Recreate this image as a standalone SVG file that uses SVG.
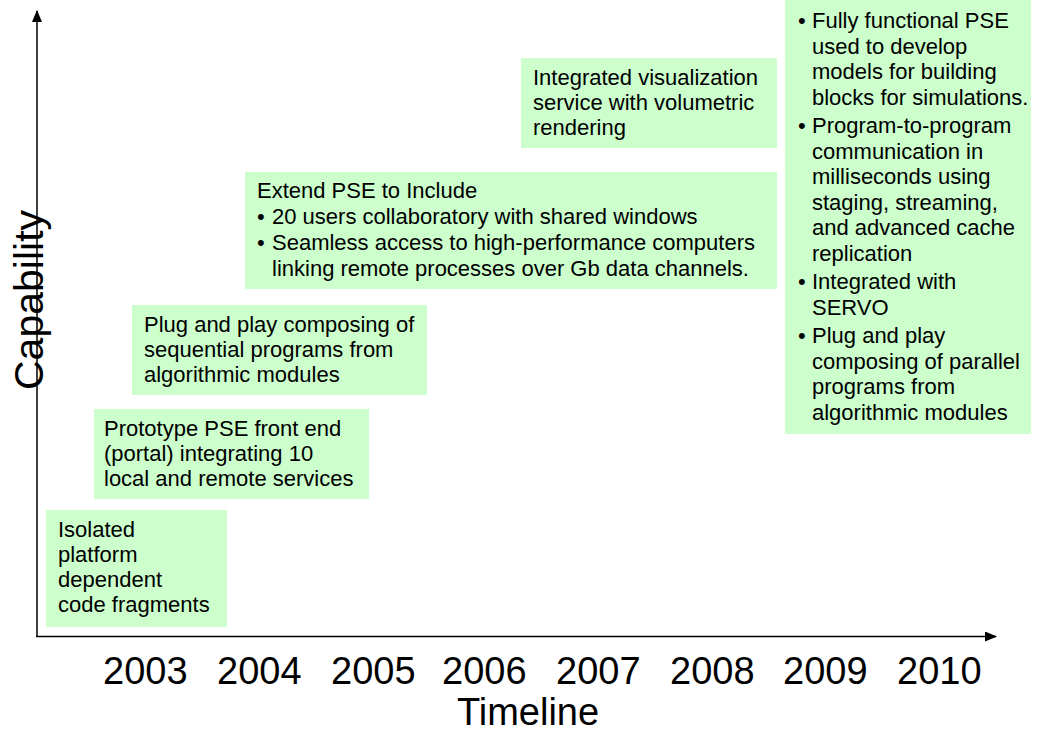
<svg xmlns="http://www.w3.org/2000/svg" width="1042" height="732" viewBox="0 0 1042 732">
<style>
.box{fill:#CCFFCC;stroke:none}
.t{font-family:"Liberation Sans",Arial,sans-serif;font-size:22px;fill:#000}
.yr{font-family:"Liberation Sans",Arial,sans-serif;font-size:38px;fill:#000}
.ax{font-family:"Liberation Sans",Arial,sans-serif;font-size:38px;fill:#000}
.axis{stroke:#000;stroke-width:1.5;fill:none}
</style>
<defs>
<marker id="arr" markerWidth="12" markerHeight="10" refX="11" refY="5" orient="auto" markerUnits="userSpaceOnUse">
<path d="M0,0 L12,5 L0,10 Z" fill="#000"/>
</marker>
</defs>
<rect width="1042" height="732" fill="#fff"/>
<g id="connectors">
<line class="axis" x1="37" y1="637" x2="37" y2="11" marker-end="url(#arr)"/>
<line class="axis" x1="36" y1="636.5" x2="996" y2="636.5" marker-end="url(#arr)"/>
</g>
<g id="node-isolated">
<rect class="box" x="46" y="510" width="181" height="117"/>
<text class="t"><tspan x="58" y="537">Isolated</tspan><tspan x="58" y="562">platform</tspan><tspan x="58" y="587">dependent</tspan><tspan x="58" y="612">code fragments</tspan></text>
</g>
<g id="node-prototype">
<rect class="box" x="94" y="409" width="275" height="90"/>
<text class="t"><tspan x="104" y="436">Prototype PSE front end</tspan><tspan x="104" y="461">(portal) integrating 10</tspan><tspan x="104" y="486">local and remote services</tspan></text>
</g>
<g id="node-plugplay">
<rect class="box" x="132" y="305" width="295" height="90"/>
<text class="t"><tspan x="144" y="332">Plug and play composing of</tspan><tspan x="144" y="357">sequential programs from</tspan><tspan x="144" y="382">algorithmic modules</tspan></text>
</g>
<g id="node-extend">
<rect class="box" x="245" y="172" width="532" height="117"/>
<text class="t"><tspan x="257" y="198">Extend PSE to Include</tspan><tspan x="257" y="224">•</tspan><tspan x="272" y="224">20 users collaboratory with shared windows</tspan><tspan x="257" y="250">•</tspan><tspan x="272" y="250">Seamless access to high-performance computers</tspan><tspan x="272" y="276">linking remote processes over Gb data channels.</tspan></text>
</g>
<g id="node-visualization">
<rect class="box" x="521" y="58" width="256" height="90"/>
<text class="t"><tspan x="533" y="85">Integrated visualization</tspan><tspan x="533" y="110">service with volumetric</tspan><tspan x="533" y="135">rendering</tspan></text>
</g>
<g id="node-full">
<rect class="box" x="785" y="0" width="246" height="434"/>
<text class="t">
<tspan x="798" y="28">•</tspan><tspan x="812" y="28">Fully functional PSE</tspan>
<tspan x="812" y="53.5">used to develop</tspan>
<tspan x="812" y="79">models for building</tspan>
<tspan x="812" y="104.5">blocks for simulations.</tspan>
<tspan x="798" y="133">•</tspan><tspan x="812" y="133">Program-to-program</tspan>
<tspan x="812" y="158.5">communication in</tspan>
<tspan x="812" y="184">milliseconds using</tspan>
<tspan x="812" y="209.5">staging, streaming,</tspan>
<tspan x="812" y="235">and advanced cache</tspan>
<tspan x="812" y="260.5">replication</tspan>
<tspan x="798" y="289">•</tspan><tspan x="812" y="289">Integrated with</tspan>
<tspan x="812" y="314.5">SERVO</tspan>
<tspan x="798" y="343">•</tspan><tspan x="812" y="343">Plug and play</tspan>
<tspan x="812" y="368.5">composing of parallel</tspan>
<tspan x="812" y="394">programs from</tspan>
<tspan x="812" y="419.5">algorithmic modules</tspan>
</text>
</g>
<g id="labels">
<text class="yr" y="684"><tspan x="103">2003</tspan><tspan x="217">2004</tspan><tspan x="331">2005</tspan><tspan x="442">2006</tspan><tspan x="556">2007</tspan><tspan x="670">2008</tspan><tspan x="783">2009</tspan><tspan x="897">2010</tspan></text>
<text class="ax" x="528" y="725" text-anchor="middle">Timeline</text>
<text class="ax" text-anchor="middle" transform="translate(43,300) rotate(-90)" style="font-size:41px">Capability</text>
</g>
</svg>
